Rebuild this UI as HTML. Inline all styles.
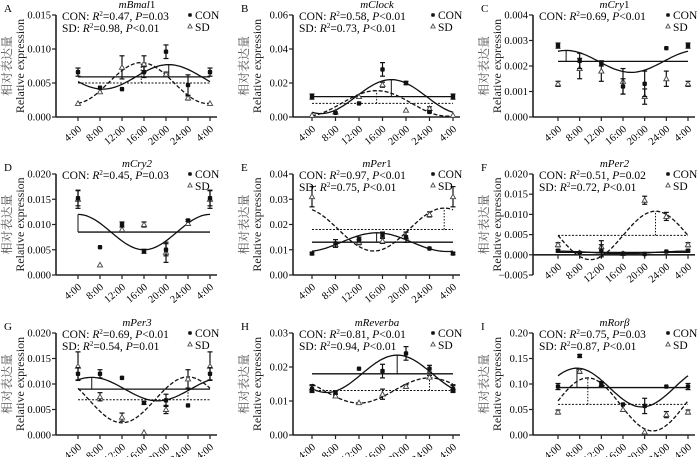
<!DOCTYPE html>
<html><head><meta charset="utf-8"><style>
html,body{margin:0;padding:0;background:#fff;}
svg{display:block;font-family:"Liberation Serif","Noto Serif CJK SC",serif;}
</style></head><body>
<svg id="fig" width="700" height="457" viewBox="0 0 700 457"></svg>
<script>
const hours = [4,8,12,16,20,24,28];
const tickLabels = ["4:00","8:00","12:00","16:00","20:00","24:00","4:00"];
const panelIds = ["A","B","C","D","E","F","G","H","I"];
const genes = ["mBmal1","mClock","mCry1","mCry2","mPer1","mPer2","mPer3","mReverba","mRorβ"];
const geneItalic = [["mBmal","1"],["mClock",""],["mCry","1"],["mCry2",""],["mPer","1"],["mPer2",""],["mPer3",""],["mReverba",""],["mRorβ",""]];
const yMins = [0,0,0,0,0,-0.005,0,0,0];
const yMaxs = [0.015,0.06,0.004,0.020,0.04,0.020,0.020,0.03,0.20];
const yTickVals = [[0,0.005,0.010,0.015],[0,0.02,0.04,0.06],[0,0.001,0.002,0.003,0.004],[0,0.005,0.010,0.015,0.020],[0,0.01,0.02,0.03,0.04],[-0.005,0,0.005,0.010,0.015,0.020],[0,0.005,0.010,0.015,0.020],[0,0.01,0.02,0.03],[0,0.05,0.10,0.15,0.20]];
const yTickDigits = [3,2,3,3,2,3,3,2,2];
const conVals = [
 [0.0066,0.0043,0.0041,0.0066,0.0096,0.0047,0.0066],
 [0.012,0.0025,0.008,0.028,0.020,0.003,0.012],
 [0.0028,0.0022,0.0021,0.0012,0.0013,0.0027,0.0028],
 [0.0152,0.0055,0.0100,0.0047,0.0050,0.0108,0.0152],
 [0.0085,0.0125,0.014,0.016,0.015,0.0105,0.0085],
 [0.001,0.0005,0.001,0.0003,0.0002,0.0008,0.001],
 [0.012,0.012,0.0112,0.0063,0.0068,0.0058,0.012],
 [0.0135,0.0125,0.0195,0.0188,0.024,0.0195,0.0135],
 [0.095,0.155,0.10,0.06,0.057,0.095,0.095]];
const conErr = [
 [0.0006,0,0,0.0008,0.001,0.0015,0.0006],
 [0.0015,0,0,0.004,0.001,0.0005,0.0015],
 [0.0001,0.0003,0.0001,0.0003,0.0005,0,0.0001],
 [0.0015,0,0.0005,0.0004,0.0012,0.0002,0.0015],
 [0.0005,0.0015,0.001,0.001,0.002,0,0.0005],
 [0.0003,0,0.0015,0,0,0,0.0003],
 [0.0012,0.0008,0,0.0003,0.0012,0,0.0012],
 [0.001,0.0005,0,0.002,0.002,0.001,0.001],
 [0.006,0.003,0.005,0,0.015,0,0.006]];
const sdVals = [
 [0.0020,0.0037,0.0073,0.0078,0.0063,0.0028,0.0020],
 [0.001,0.003,0.012,0.019,0.004,0.005,0.001],
 [0.0013,0.0019,0.0018,0.0014,0.0008,0.0015,0.0013],
 [0.015,0.002,0.009,0.010,0.0045,0.0102,0.015],
 [0.031,0.012,0.013,0.0135,0.015,0.024,0.031],
 [0.0025,0.0005,0.002,0.0003,0.0135,0.0095,0.0025],
 [0.0135,0.0075,0.0035,0.0005,0.005,0.011,0.0135],
 [0.0138,0.0115,0.0095,0.012,0.0143,0.017,0.0138],
 [0.045,0.125,0.098,0.05,0.006,0.04,0.045]];
const sdErr = [
 [0,0,0.0017,0.0012,0.0003,0.0003,0],
 [0,0,0,0.0015,0,0.001,0],
 [0.0001,0.0004,0.0004,0.0005,0.0003,0.0003,0.0001],
 [0.0018,0,0,0.0005,0.002,0,0.0018],
 [0.004,0.001,0.001,0.001,0.002,0.001,0.004],
 [0.0005,0,0.0015,0,0.001,0.001,0.0005],
 [0.0028,0.0008,0.0008,0,0.0008,0.0018,0.0028],
 [0.001,0.0005,0,0.0015,0.0005,0.0005,0.001],
 [0.004,0.004,0,0,0,0.006,0.004]];
// cosinor fits: [mesor, amplitude, acrophase hour]; null = no fit
const conFit = [[0.0059,0.0018,20.5],[0.012,0.010,17.5],[0.00218,0.00043,5.5],[0.0085,0.0035,4],[0.013,0.0037,15],[0.0006,0.0003,4],[0.009,0.0023,6.5],[0.018,0.0055,18.5],[0.093,0.038,7.5]];
const sdFit = [[0.005,0.003,15.5],[0.008,0.0075,15],null,null,[0.018,0.0085,26.5],[0.0048,0.006,22],[0.0069,0.0045,24],[0.0131,0.0037,24],[0.06,0.052,9.5]];
const conStats = [["0.47","=0.03"],["0.58","<0.01"],["0.69","<0.01"],["0.45","=0.03"],["0.97","<0.01"],["0.51","=0.02"],["0.69","<0.01"],["0.81","<0.01"],["0.75","=0.03"]];
const sdStats = [["0.98","<0.01"],["0.73","<0.01"],null,null,["0.75","<0.01"],["0.72","<0.01"],["0.54","=0.01"],["0.94","<0.01"],["0.87","<0.01"]];

// layout (pixel geometry, not data)
const colAxis=[56,293,533], colX0=[78,312,558], colX1=[210,453,688];
const rowTop=[15,174,333], rowBot=[117,275,435];

const NS="http://www.w3.org/2000/svg";
const svg=document.getElementById('fig');
function mk(tag,attrs,parent){const e=document.createElementNS(NS,tag);for(const k in attrs)e.setAttribute(k,attrs[k]);(parent||svg).appendChild(e);return e;}

panelIds.forEach((pid,i)=>{
  const c=i%3, r=Math.floor(i/3);
  const g=mk('g',{});
  
  
  const ax=colAxis[c], x0=colX0[c], x1=colX1[c], yT=rowTop[r], yB=rowBot[r];
  const ymin=yMins[i], ymax=yMaxs[i];
  const X=h=>x0+(h-4)/24*(x1-x0);
  const Y=v=>yB-(v-ymin)/(ymax-ymin)*(yB-yT);
  const L=mk('text',{x:ax-52,y:yT-3,'font-size':11},g);L.textContent=pid;
  
  const t=mk('text',{x:(ax+x1)/2+4,y:yT-7,'font-size':11,'font-style':'italic','text-anchor':'middle'},g);
  t.textContent=geneItalic[i][0];
  if(geneItalic[i][1]){const s=mk('tspan',{'font-style':'normal'},t);s.textContent=geneItalic[i][1];}
  
  const cy=(yT+yB)/2;
  const yl=mk('text',{transform:`translate(${ax-45},${cy}) rotate(-90)`,'font-size':12,'text-anchor':'middle',fill:'#555'},g);
  yl.textContent='相对表达量';
  
  const yl2=mk('text',{transform:`translate(${ax-32},${cy}) rotate(-90)`,'font-size':12,'text-anchor':'middle',fill:'#222'},g);
  yl2.textContent='Relative expression';
  
  const zeroY=Y(0);
  mk('line',{x1:ax,y1:yT,x2:ax,y2:yB,stroke:'#222','stroke-width':1.6},g);
  mk('line',{x1:ax,y1:zeroY,x2:x1+7,y2:zeroY,stroke:'#222','stroke-width':1.6},g);
  yTickVals[i].forEach(v=>{
    const yy=Y(v);
    mk('line',{x1:ax-4,y1:yy,x2:ax,y2:yy,stroke:'#222','stroke-width':1.2},g);
    const tl=mk('text',{x:ax-5,y:yy+3.5,'font-size':10.5,'text-anchor':'end'},g);
    tl.textContent=(v<0?'\u2212':'')+Math.abs(v).toFixed(yTickDigits[i]);
    
  });
  hours.forEach((h,k)=>{
    const xx=X(h);
    mk('line',{x1:xx,y1:zeroY,x2:xx,y2:zeroY+4,stroke:'#222','stroke-width':1.2},g);
    const tl=mk('text',{transform:`translate(${xx+4},${zeroY+13}) rotate(-40)`,'font-size':10.5,'text-anchor':'end'},g);
    tl.textContent=tickLabels[k];
    
  });
  function drawFit(f,dash,name){
    if(!f)return;
    const [M,A,P]=f;
    let d='';
    for(let s=0;s<=60;s++){const h=4+24*s/60;const v=M+A*Math.cos(2*Math.PI*(h-P)/24);d+=(s?'L':'M')+X(h).toFixed(1)+','+Y(v).toFixed(1);}
    const p=mk('path',{d,fill:'none',stroke:'#111','stroke-width':1.3,'stroke-dasharray':dash?'4,2':'none'},g);
    
    const m=mk('line',{x1:X(4),y1:Y(M),x2:X(28),y2:Y(M),stroke:'#111','stroke-width':dash?1:1.3,'stroke-dasharray':dash?'2,1.5':'none'},g);
    
    const a=mk('line',{x1:X(P),y1:Y(M),x2:X(P),y2:Y(M+A),stroke:'#111','stroke-width':1,'stroke-dasharray':dash?'1.5,1.5':'none'},g);
    
  }
  drawFit(conFit[i],false,'con');
  drawFit(sdFit[i],true,'sd');
  function pts(vals,errs,kind){
    vals.forEach((v,k)=>{
      const xx=X(hours[k]),yy=Y(v),e=errs[k];
      if(e>0){
        const y1=Y(v+e),y2=Y(v-e);
        mk('line',{x1:xx,y1,x2:xx,y2,stroke:'#111','stroke-width':1.2},g);
        mk('line',{x1:xx-2.5,y1,x2:xx+2.5,y2:y1,stroke:'#111','stroke-width':1.2},g);
        mk('line',{x1:xx-2.5,y1:y2,x2:xx+2.5,y2:y2,stroke:'#111','stroke-width':1.2},g);
      }
      let m;
      if(kind==='con'){m=mk('rect',{x:xx-2.2,y:yy-2.2,width:4.4,height:4.4,rx:1,fill:'#111'},g);}
      else{m=mk('path',{d:`M${xx},${yy-2.6}L${xx+2.6},${yy+2}L${xx-2.6},${yy+2}Z`,fill:'#fff',stroke:'#444','stroke-width':0.9},g);}
      
    });
  }
  pts(sdVals[i],sdErr[i],'sd');
  pts(conVals[i],conErr[i],'con');
  function stat(lbl,st,yy){
    if(!st)return;
    const tx=mk('text',{x:ax+6,y:yy,'font-size':11.5},g);
    
    let s=mk('tspan',{},tx);s.textContent=lbl+': ';
    s=mk('tspan',{'font-style':'italic'},tx);s.textContent='R';
    s=mk('tspan',{'font-size':7,dy:-4},tx);s.textContent='2';
    s=mk('tspan',{dy:4},tx);s.textContent='=' + st[0]+', ';
    s=mk('tspan',{'font-style':'italic'},tx);s.textContent='P';
    s=mk('tspan',{},tx);s.textContent=st[1];
  }
  stat('CON',conStats[i],yT+5);
  stat('SD',sdStats[i],yT+17);
  const lx=x1-20;
  const l1=mk('g',{},g);
  mk('rect',{x:lx-1.8,y:yT-1.8,width:3.6,height:3.6,rx:1,fill:'#111'},l1);
  let lt=mk('text',{x:lx+5,y:yT+4,'font-size':11.5},l1);lt.textContent='CON';
  const l2=mk('g',{},g);
  mk('path',{d:`M${lx},${yT+9}L${lx+2.2},${yT+13}L${lx-2.2},${yT+13}Z`,fill:'#fff',stroke:'#444','stroke-width':0.8},l2);
  lt=mk('text',{x:lx+5,y:yT+16,'font-size':11.5},l2);lt.textContent='SD';
});
</script>
</body></html>
